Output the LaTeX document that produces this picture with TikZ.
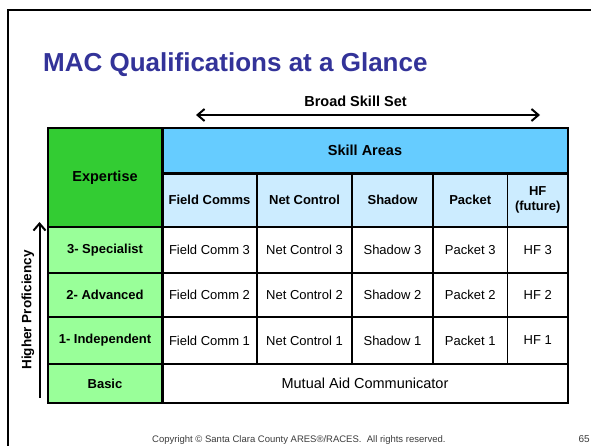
\documentclass[tikz,border=0pt]{standalone}
\usepackage{fontspec}
\setmainfont{Liberation Sans}
\usetikzlibrary{arrows.meta}
\definecolor{titleblue}{RGB}{51,51,153}
\definecolor{expgreen}{RGB}{51,204,51}
\definecolor{rowgreen}{RGB}{153,255,153}
\definecolor{skillblue}{RGB}{102,204,255}
\definecolor{subblue}{RGB}{204,236,255}
\definecolor{footgray}{RGB}{60,60,60}
\tikzset{
  cellbox/.style={draw=black, line width=1.2pt, inner sep=0pt, align=center, font=\fontsize{13}{15.5}\selectfont},
  bighead/.style={font=\bfseries\fontsize{14.5}{17}\selectfont},
  smallhead/.style={font=\bfseries\fontsize{13}{15.5}\selectfont},
  bigtext/.style={font=\fontsize{14.5}{17}\selectfont},
  arrowline/.style={line width=2pt, {Straight Barb[length=7pt,width=12pt,line width=2pt]}-{Straight Barb[length=7pt,width=12pt,line width=2pt]}},
  uparrow/.style={line width=2pt, -{Straight Barb[length=7pt,width=12pt,line width=2pt]}},
}
\begin{document}
\begin{tikzpicture}[x=1pt,y=-1pt]
\useasboundingbox (0,0) rectangle (591,446);
\fill[white] (0,0) rectangle (591,446);
% slide frame
\coordinate (frameBL) at (8,470);
\coordinate (frameTL) at (8,10);
\coordinate (frameTR) at (620,10);
\draw[line width=2.5pt] (frameBL) -- (frameTL) -- (frameTR);
% title
\node[anchor=base west, inner sep=0pt, text=titleblue, font=\bfseries\fontsize{26}{30}\selectfont] (title) at (43,72) {MAC Qualifications at a Glance};
% broad skill set
\node[anchor=base, inner sep=0pt, font=\bfseries\fontsize{14.5}{17}\selectfont] (broad) at (355.5,107) {Broad Skill Set};
\coordinate (bsL) at (196,115);
\coordinate (bsR) at (540,115);
\draw[arrowline] (bsL) -- (bsR);
% header block
\node[cellbox, bighead, fill=expgreen, minimum width=114pt, minimum height=99pt] (exp) at (105,177.5) {Expertise};
\node[cellbox, bighead, fill=skillblue, minimum width=406pt, minimum height=45pt] (skill) at (365,150.5) {Skill Areas};
\node[cellbox, smallhead, fill=subblue, minimum width=95pt, minimum height=54pt] (hfield) at (209.5,200) {Field Comms};
\node[cellbox, smallhead, fill=subblue, minimum width=95pt, minimum height=54pt] (hnet) at (304.5,200) {Net Control};
\node[cellbox, smallhead, fill=subblue, minimum width=81pt, minimum height=54pt] (hshadow) at (392.5,200) {Shadow};
\node[cellbox, smallhead, fill=subblue, minimum width=74.5pt, minimum height=54pt] (hpacket) at (470.25,200) {Packet};
\node[cellbox, smallhead, fill=subblue, minimum width=60.5pt, minimum height=54pt] (hhf) at (537.75,200) {HF\\(future)};
% level 3
\node[cellbox, smallhead, fill=rowgreen, minimum width=114pt, minimum height=46pt] (l3) at (105,250) {3- Specialist};
\node[cellbox, minimum width=95pt, minimum height=46pt] (f3) at (209.5,250) {Field Comm 3};
\node[cellbox, minimum width=95pt, minimum height=46pt] (n3) at (304.5,250) {Net Control 3};
\node[cellbox, minimum width=81pt, minimum height=46pt] (s3) at (392.5,250) {Shadow 3};
\node[cellbox, minimum width=74.5pt, minimum height=46pt] (p3) at (470.25,250) {Packet 3};
\node[cellbox, minimum width=60.5pt, minimum height=46pt] (h3) at (537.75,250) {HF 3};
% level 2
\node[cellbox, smallhead, fill=rowgreen, minimum width=114pt, minimum height=44pt] (l2) at (105,295) {2- Advanced};
\node[cellbox, minimum width=95pt, minimum height=44pt] (f2) at (209.5,295) {Field Comm 2};
\node[cellbox, minimum width=95pt, minimum height=44pt] (n2) at (304.5,295) {Net Control 2};
\node[cellbox, minimum width=81pt, minimum height=44pt] (s2) at (392.5,295) {Shadow 2};
\node[cellbox, minimum width=74.5pt, minimum height=44pt] (p2) at (470.25,295) {Packet 2};
\node[cellbox, minimum width=60.5pt, minimum height=44pt] (h2) at (537.75,295) {HF 2};
% level 1
\node[cellbox, smallhead, fill=rowgreen, minimum width=114pt, minimum height=47pt] (l1) at (105,340.5) {1- Independent};
\node[cellbox, minimum width=95pt, minimum height=47pt] (f1) at (209.5,340.5) {Field Comm 1};
\node[cellbox, minimum width=95pt, minimum height=47pt] (n1) at (304.5,340.5) {Net Control 1};
\node[cellbox, minimum width=81pt, minimum height=47pt] (s1) at (392.5,340.5) {Shadow 1};
\node[cellbox, minimum width=74.5pt, minimum height=47pt] (p1) at (470.25,340.5) {Packet 1};
\node[cellbox, minimum width=60.5pt, minimum height=47pt] (h1) at (537.75,340.5) {HF 1};
% basic
\node[cellbox, smallhead, fill=rowgreen, minimum width=114pt, minimum height=39pt] (basic) at (105,383.5) {Basic};
\node[cellbox, bigtext, minimum width=406pt, minimum height=39pt] (mac) at (365,383.5) {Mutual Aid Communicator};
% thick separators
\draw[line width=3pt] (exp.north east) -- (basic.south east);
\draw[line width=3pt] (skill.south west) -- (skill.south east);
% proficiency axis
\node[rotate=90, inner sep=0pt, font=\bfseries\fontsize{13.5}{16}\selectfont] (prof) at (28,310) {Higher Proficiency};
\coordinate (upS) at (39.5,398);
\coordinate (upE) at (39.5,222);
\draw[uparrow] (upS) -- (upE);
% footer
\node[anchor=base west, inner sep=0pt, text=footgray, font=\fontsize{9.5}{11}\selectfont] (copy) at (152,442.5) {Copyright \textcopyright{} Santa Clara County ARES\textregistered/RACES.\ \ All rights reserved.};
\node[anchor=base east, inner sep=0pt, text=footgray, font=\fontsize{10}{12}\selectfont] (pagenum) at (590,442.5) {65};
\end{tikzpicture}
\end{document}
